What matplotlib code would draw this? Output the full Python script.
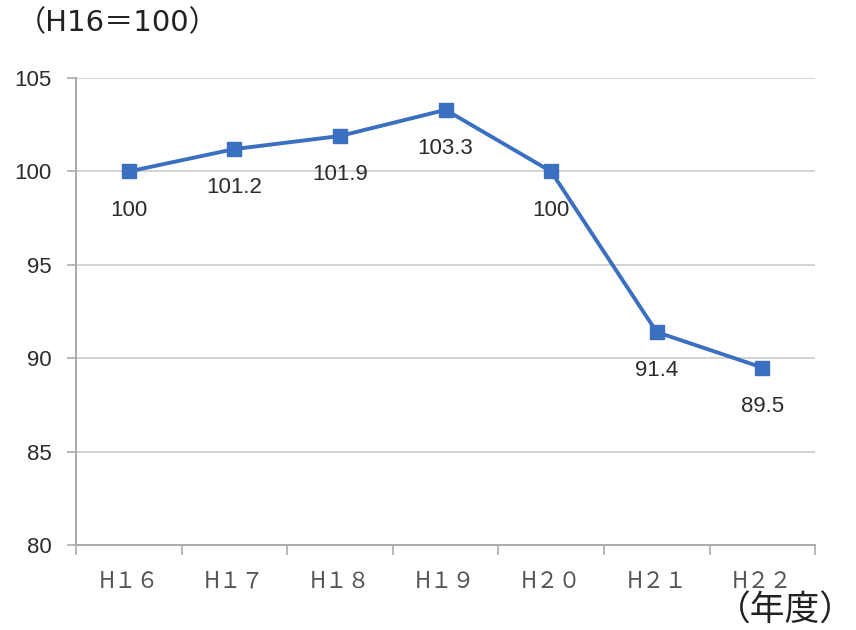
import matplotlib
matplotlib.use("Agg")
import matplotlib.pyplot as plt

years = ["H１６", "H１７", "H１８", "H１９", "H２０", "H２１", "H２２"]
index_values = [100, 101.2, 101.9, 103.3, 100, 91.4, 89.5]
value_labels = ["100", "101.2", "101.9", "103.3", "100", "91.4", "89.5"]
y_ticks = [80, 85, 90, 95, 100, 105]

fig = plt.figure(figsize=(8.56, 6.3), dpi=100)
ax = fig.add_axes([0.0888, 0.135, 0.8634, 0.741])

x = list(range(len(years)))
ax.plot(x, index_values, color="#3b6fc0", linewidth=2.8, marker="s",
        markersize=10.5, zorder=3)

for xi, v, lab in zip(x, index_values, value_labels):
    ax.annotate(lab, (xi, v), xytext=(0, -28), textcoords="offset points",
                ha="center", va="center", fontsize=16, color="#2b2b2b",
                family="Liberation Sans")

ax.set_xlim(-0.5, len(years) - 0.5)
ax.set_ylim(80, 105)
ax.set_yticks(y_ticks)
ax.set_yticklabels([str(t) for t in y_ticks], fontsize=16, color="#2b2b2b",
                   family="Liberation Sans")
ax.yaxis.grid(True, color="#cccccc", linewidth=1.2)
ax.set_axisbelow(True)

# category ticks sit on the boundaries between years
ax.set_xticks([i - 0.5 for i in range(len(years) + 1)])
ax.set_xticklabels([])
ax.set_xticks(x, minor=True)
ax.set_xticklabels(years, minor=True, fontsize=16, color="#555555",
                   family=["Noto Sans CJK JP", "DejaVu Sans"])
ax.tick_params(axis="x", which="minor", length=0, pad=18)
ax.tick_params(axis="x", which="major", length=7, color="#aaaaaa", width=1.2)
ax.tick_params(axis="y", length=6.5, color="#aaaaaa", width=1.2, pad=11)

for side in ("top", "right"):
    ax.spines[side].set_visible(False)
for side in ("left", "bottom"):
    ax.spines[side].set_color("#aaaaaa")
    ax.spines[side].set_linewidth(1.4)

fig.text(0.02, 0.963, "（H16＝100）", fontsize=21, color="#222222",
         family=["DejaVu Sans", "Noto Sans CJK JP"], ha="left", va="center")
fig.text(0.999, 0.03, "（年度）", fontsize=25, color="#222222",
         family=["Noto Sans CJK JP", "DejaVu Sans"], ha="right", va="center")

fig.savefig("out.png", dpi=100)
